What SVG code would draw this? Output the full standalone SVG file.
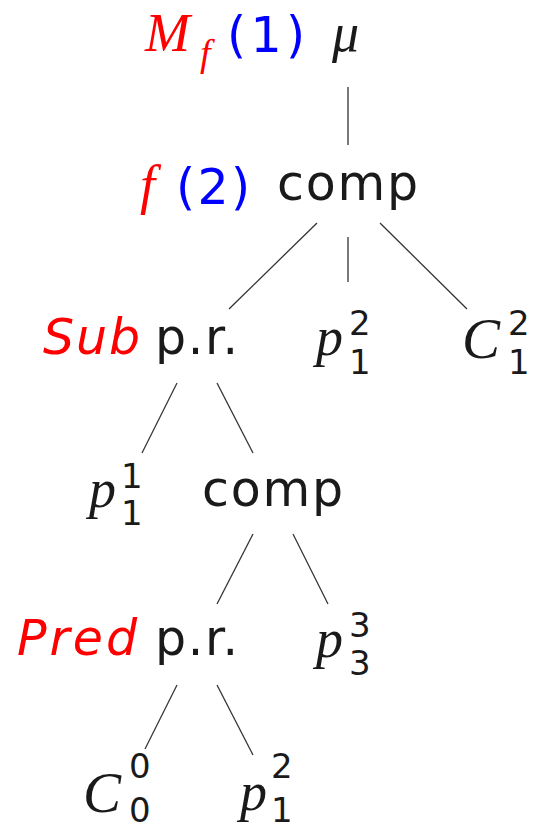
<svg xmlns="http://www.w3.org/2000/svg" width="537" height="833" viewBox="0 0 537 833">
<style>
.sans{font-family:"DejaVu Sans",Verdana,sans-serif;font-size:49px;fill:#1a1a1a}
.mi{font-family:"Liberation Serif","Times New Roman",serif;font-style:italic;font-size:54px;fill:#1a1a1a}
.big{font-size:57px}
.sc{font-family:"DejaVu Sans",Verdana,sans-serif;font-size:34px;fill:#1a1a1a}
.it{font-style:oblique}
.red{fill:#ff0000}
.blue{fill:#0000ff}
.edge{stroke:#333;stroke-width:1.3;fill:none}
</style>
<rect width="537" height="833" fill="#fff"/>
<g id="edges">
<line class="edge" x1="348" y1="87" x2="348" y2="145"/>
<line class="edge" x1="317" y1="223" x2="229" y2="309"/>
<line class="edge" x1="348" y1="237" x2="348" y2="282"/>
<line class="edge" x1="380" y1="223" x2="467" y2="309"/>
<line class="edge" x1="177" y1="383" x2="142" y2="453"/>
<line class="edge" x1="217" y1="383" x2="253" y2="453"/>
<line class="edge" x1="253" y1="534" x2="217" y2="604"/>
<line class="edge" x1="293" y1="534" x2="328" y2="604"/>
<line class="edge" x1="177" y1="685" x2="145" y2="749"/>
<line class="edge" x1="217" y1="685" x2="253" y2="755"/>
</g>
<g id="mu">
<text class="mi red" x="145" y="51">M</text>
<text class="mi red" x="200" y="66" style="font-size:38px">f</text>
<text class="sans blue" x="227" y="52" textLength="78" lengthAdjust="spacing">(1)</text>
<text class="mi" x="332" y="51">μ</text>
</g>
<g id="comp1">
<text class="mi red" x="140" y="203">f</text>
<text class="sans blue" x="176" y="204" textLength="74" lengthAdjust="spacing">(2)</text>
<text class="sans" x="277" y="200" textLength="141" lengthAdjust="spacing">comp</text>
</g>
<g id="pr1">
<text class="sans red it" x="43" y="354" textLength="97" lengthAdjust="spacing">Sub</text>
<text class="sans" x="155" y="354" textLength="83" lengthAdjust="spacing">p.r.</text>
</g>
<g id="p12a">
<text class="mi" x="316" y="355">p</text>
<text class="sc" x="349" y="335">2</text>
<text class="sc" x="349" y="374">1</text>
</g>
<g id="c12">
<text class="mi big" x="462" y="358">C</text>
<text class="sc" x="508" y="335">2</text>
<text class="sc" x="508" y="374">1</text>
</g>
<g id="p11">
<text class="mi" x="89" y="507">p</text>
<text class="sc" x="121" y="488">1</text>
<text class="sc" x="121" y="525">1</text>
</g>
<g id="comp2">
<text class="sans" x="202" y="506" textLength="141" lengthAdjust="spacing">comp</text>
</g>
<g id="pr2">
<text class="sans red it" x="17" y="655" textLength="120" lengthAdjust="spacing">Pred</text>
<text class="sans" x="155" y="655" textLength="83" lengthAdjust="spacing">p.r.</text>
</g>
<g id="p33">
<text class="mi" x="316" y="657">p</text>
<text class="sc" x="349" y="637">3</text>
<text class="sc" x="349" y="675">3</text>
</g>
<g id="c00">
<text class="mi big" x="83" y="812">C</text>
<text class="sc" x="129" y="778">0</text>
<text class="sc" x="129" y="822">0</text>
</g>
<g id="p12b">
<text class="mi" x="240" y="810">p</text>
<text class="sc" x="271" y="778">2</text>
<text class="sc" x="271" y="822">1</text>
</g>
</svg>
